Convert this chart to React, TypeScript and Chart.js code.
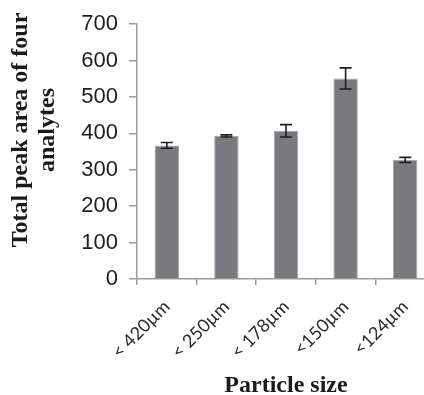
import React, { useEffect, useRef } from "react";
import { Chart, registerables } from "chart.js";

Chart.register(...registerables);

const categories = ["< 420µm", "< 250µm", "< 178µm", "<150µm", "<124µm"];
const peakArea = [367, 393, 407, 551, 327];
const peakError = [8, 3, 17, 29, 7];
const yTitleLines = ["Total peak area of four", "analytes"];
const xTitle = "Particle size";

const errorBarPlugin = {
  id: "errorBars",
  afterDatasetsDraw(chart: any) {
    const meta = chart.getDatasetMeta(0);
    const y = chart.scales.y;
    const ctx = chart.ctx;
    ctx.save();
    ctx.strokeStyle = "#1e1e1e";
    ctx.lineWidth = 1.6;
    meta.data.forEach((bar: any, i: number) => {
      const x = bar.x;
      const top = y.getPixelForValue(peakArea[i] + peakError[i]);
      const bot = y.getPixelForValue(peakArea[i] - peakError[i]);
      ctx.beginPath();
      ctx.moveTo(x, top);
      ctx.lineTo(x, bot);
      ctx.moveTo(x - 6, top);
      ctx.lineTo(x + 6, top);
      ctx.moveTo(x - 6, bot);
      ctx.lineTo(x + 6, bot);
      ctx.stroke();
    });
    ctx.restore();
  },
};

const yTitlePlugin = {
  id: "yTitle",
  afterDraw(chart: any) {
    const ctx = chart.ctx;
    ctx.save();
    ctx.font = "bold 24px 'Liberation Serif', 'DejaVu Serif', serif";
    ctx.fillStyle = "#1a1a1a";
    ctx.textAlign = "center";
    ctx.textBaseline = "middle";
    ctx.translate(0, 130);
    ctx.rotate(-Math.PI / 2);
    ctx.fillText(yTitleLines[0], 0, 21);
    ctx.fillText(yTitleLines[1], 0, 48);
    ctx.restore();
  },
};

export default function App() {
  const ref = useRef<HTMLCanvasElement | null>(null);
  useEffect(() => {
    if (!ref.current) return;
    const chart = new Chart(ref.current, {
      type: "bar",
      data: {
        labels: categories,
        datasets: [
          {
            data: peakArea,
            backgroundColor: "#7a7a7e",
            borderColor: "#a9a9ac",
            borderWidth: 1,
            categoryPercentage: 1,
            barPercentage: 0.41,
          },
        ],
      },
      options: {
        responsive: false,
        animation: false,
        layout: { padding: { left: 0, right: 2, top: 20, bottom: 0 } },
        plugins: {
          legend: { display: false },
          tooltip: { enabled: false },
        },
        scales: {
          x: {
            grid: {
              offset: true,
              drawOnChartArea: false,
              tickLength: 6,
              color: "#9a9a9a",
              lineWidth: 1.5,
            },
            border: { color: "#9a9a9a", width: 1.5 },
            ticks: {
              maxRotation: 45,
              minRotation: 45,
              padding: 11,
              color: "#2a2a2a",
              font: { family: "Lato, 'Open Sans', sans-serif", size: 18 },
            },
            title: {
              display: true,
              text: xTitle,
              color: "#1a1a1a",
              padding: { top: 0, bottom: 0 },
              font: { family: "'Liberation Serif', serif", size: 24, weight: "bold", lineHeight: 0.8 },
            },
            afterFit: (s: any) => {
              s.height = 116;
            },
          },
          y: {
            min: 0,
            max: 700,
            grid: {
              drawOnChartArea: false,
              tickLength: 8,
              color: "#9a9a9a",
              lineWidth: 1.5,
            },
            border: { color: "#9a9a9a", width: 1.5 },
            ticks: {
              stepSize: 100,
              padding: 11,
              color: "#1e1e1e",
              font: { family: "'Liberation Sans', Arial, sans-serif", size: 22 },
            },
            afterFit: (s: any) => {
              s.width = 137;
            },
          },
        },
      },
      plugins: [errorBarPlugin, yTitlePlugin],
    });
    return () => chart.destroy();
  }, []);
  return (
    <div
      style={{
        position: "fixed",
        left: 0,
        top: 0,
        width: 424,
        height: 395,
        overflow: "hidden",
        background: "#fff",
      }}
    >
      <canvas ref={ref} width={437} height={395} style={{ display: "block" }} />
    </div>
  );
}
